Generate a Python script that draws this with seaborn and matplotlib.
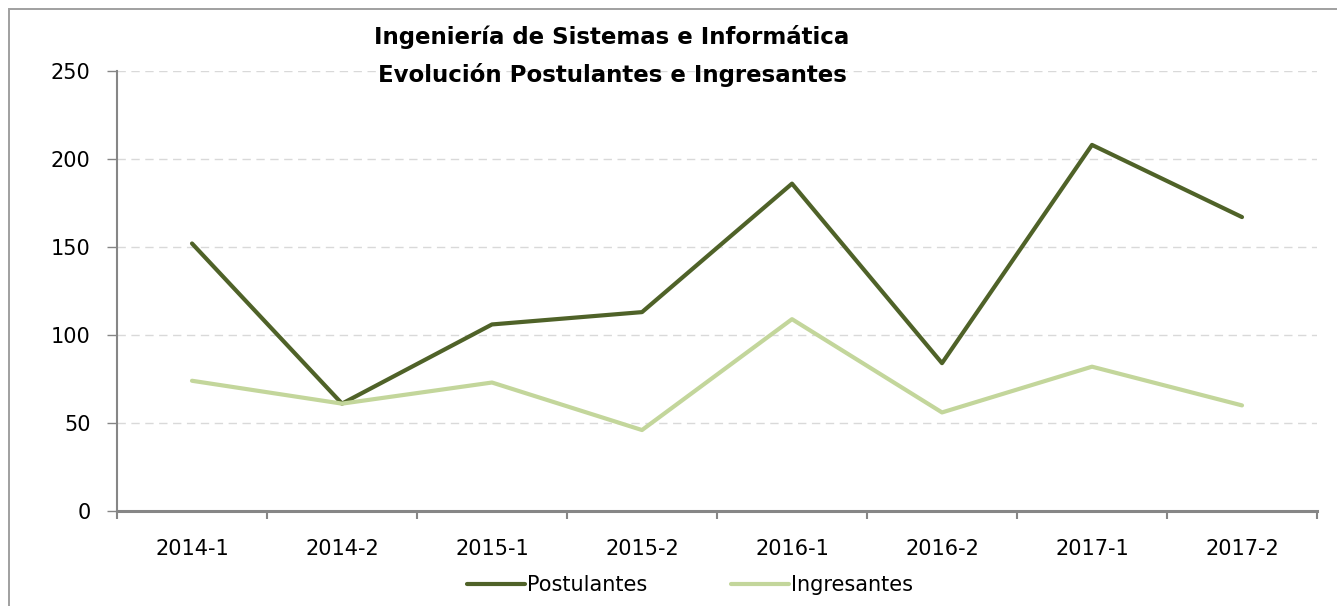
import matplotlib
matplotlib.use("Agg")
import matplotlib.pyplot as plt
import seaborn as sns
import pandas as pd
import numpy as np
from matplotlib.ticker import FixedLocator, NullFormatter

periods = ["2014-1", "2014-2", "2015-1", "2015-2", "2016-1", "2016-2", "2017-1", "2017-2"]
postulantes = [152, 61, 106, 113, 186, 84, 208, 167]
ingresantes = [74, 61, 73, 46, 109, 56, 82, 60]
series_names = ["Postulantes", "Ingresantes"]
colors = ["#4F6228", "#C3D69B"]
yticks = [0, 50, 100, 150, 200, 250]

sns.set_style("white")
plt.rcParams['font.family'] = ['DejaVu Sans']
plt.rcParams['text.color'] = 'black'
plt.rcParams['xtick.color'] = 'black'
plt.rcParams['ytick.color'] = 'black'

df = pd.DataFrame({
    "Periodo": periods * 2,
    "Valor": postulantes + ingresantes,
    "Serie": [series_names[0]] * len(periods) + [series_names[1]] * len(periods),
})

fig = plt.figure(figsize=(13.37, 6.06), dpi=100)
W, H = 1337, 606
ax = fig.add_axes([117 / W, 1 - 511 / H, 1200 / W, 440 / H])

sns.lineplot(data=df, x="Periodo", y="Valor", hue="Serie", palette=colors,
             hue_order=series_names, sort=False, linewidth=3.0, ax=ax,
             solid_capstyle="round", legend=True)

ax.set_xlim(-0.5, len(periods) - 0.5)
ax.set_ylim(0, 250)
ax.set_yticks(yticks)
ax.set_yticklabels([str(v) for v in yticks], fontsize=15)
ax.set_xticks(range(len(periods)))
ax.set_xticklabels(periods, fontsize=15)
ax.xaxis.set_minor_locator(FixedLocator(np.arange(-0.5, len(periods), 1.0)))
ax.xaxis.set_minor_formatter(NullFormatter())
ax.tick_params(axis="x", which="both", bottom=True)
ax.tick_params(axis="y", which="major", left=True)
ax.tick_params(axis="x", which="major", length=0, pad=20, labelcolor="black")
ax.tick_params(axis="x", which="minor", length=6, width=1.5, color="#868686", direction="out")
ax.tick_params(axis="y", which="major", length=7, width=1, color="#868686", direction="out",
               pad=12, labelcolor="black")
ax.set_xlabel("")
ax.set_ylabel("")

for v in yticks[1:]:
    ax.axhline(v, color="#D9D9D9", linestyle=(0, (6, 4)), linewidth=1.0, zorder=0)

for s in ["top", "right"]:
    ax.spines[s].set_visible(False)
ax.spines["left"].set_color("#868686")
ax.spines["left"].set_linewidth(1.5)
ax.spines["bottom"].set_color("#868686")
ax.spines["bottom"].set_linewidth(2.2)

handles, labels = ax.get_legend_handles_labels()
ax.legend_.remove()
fig.legend(handles, labels, loc="center", bbox_to_anchor=(690 / W, 1 - 585 / H),
           ncol=2, frameon=False, fontsize=15, handlelength=2.8, handletextpad=0.1,
           columnspacing=4.0)

fig.text(612 / W, 1 - 37 / H, "Ingeniería de Sistemas e Informática", ha="center", va="center",
         fontsize=16.5, fontweight="bold", color="black")
fig.text(612 / W, 1 - 75 / H, "Evolución Postulantes e Ingresantes", ha="center", va="center",
         fontsize=16.5, fontweight="bold", color="black")

# outer border
border = plt.Rectangle((9 / W, -0.01), 1.1, 1 - 9 / H + 0.01, transform=fig.transFigure,
                       fill=False, edgecolor="#A0A0A0", linewidth=1.4)
fig.patches.append(border)

fig.savefig("out.png", dpi=100)
